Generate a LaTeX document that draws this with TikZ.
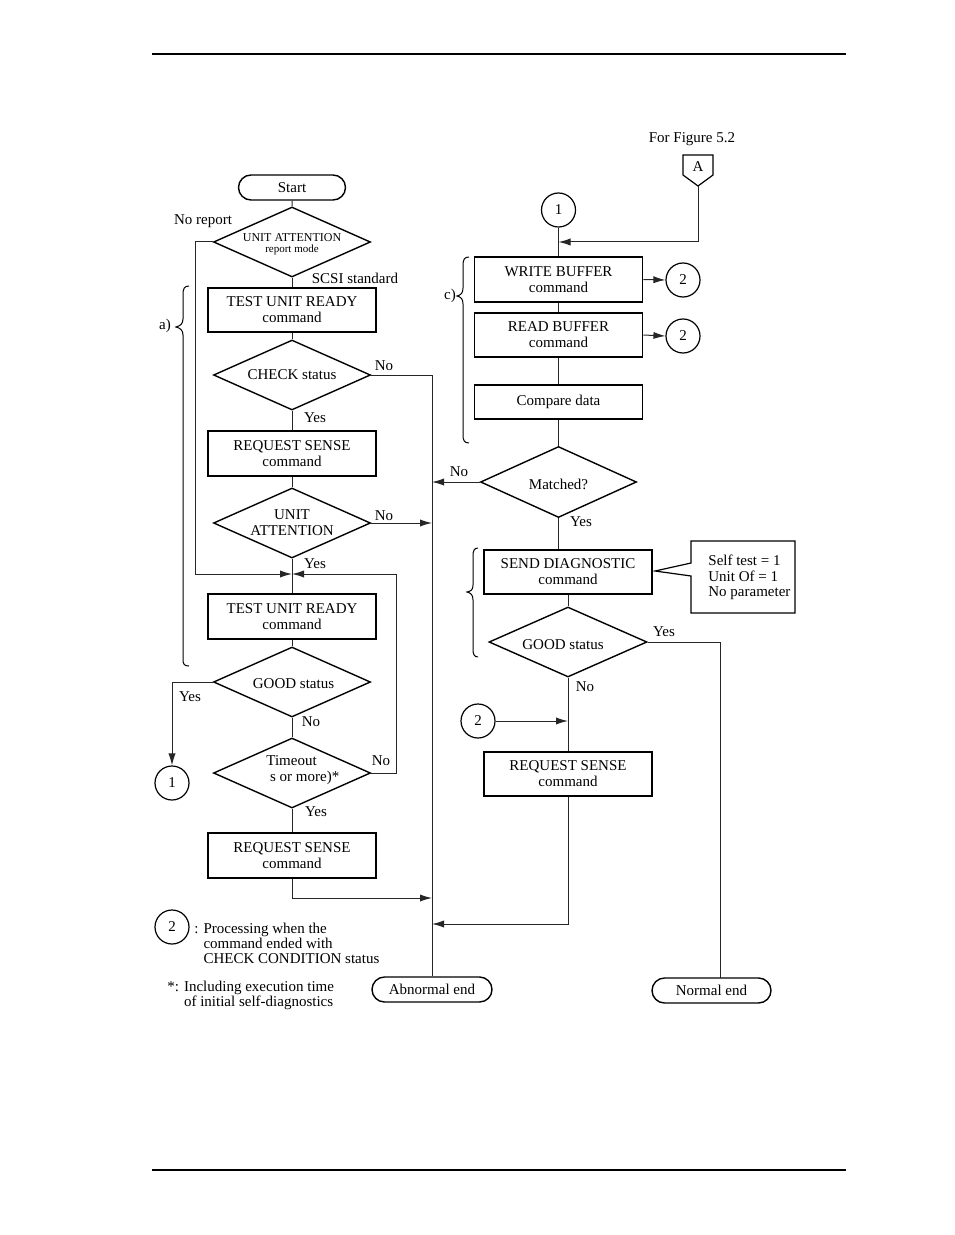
\documentclass[tikz,border=0pt]{standalone}
\usepackage{fontspec}
\setmainfont{Liberation Serif}
\usetikzlibrary{shapes.geometric,shapes.misc,arrows.meta}
\begin{document}
\begin{tikzpicture}[x=0.5pt,y=-0.5pt,
 every node/.style={font=\fontsize{7.5}{8}\selectfont, inner sep=0pt, align=center},
 box/.style={draw, line width=0.85pt, minimum width=84pt, minimum height=22.5pt},
 dia/.style={draw, diamond, line width=0.7pt, minimum width=78.5pt, minimum height=35pt},
 term/.style={draw, rounded rectangle, line width=0.7pt, minimum height=12.5pt},
 conn/.style={draw, circle, line width=0.6pt, minimum size=17pt},
 ln/.style={line width=0.5pt, draw=black!85},
 arr/.style={ln, -{Latex[length=6pt,width=3.6pt]}},
 brace/.style={line width=0.5pt, draw=black}]
\useasboundingbox (0,0) rectangle (954,1235);
% page rules
\draw[line width=0.6pt] (152,54) -- (846,54);
\draw[line width=1.3pt] (152,1170) -- (846,1170);

% ---------------- left column ----------------
\node[term, minimum width=53.5pt] (start) at (292,187.5) {Start};
\node[dia] (d1) at (292,242) {};
\node[font=\fontsize{6}{6.5}\selectfont] (d1t) at (292,237.5) {UNIT ATTENTION};
\node[font=\fontsize{5.5}{6}\selectfont] (d1u) at (292,250) {report mode};
\node[box, minimum height=22pt] (b1) at (292,310) {TEST UNIT READY\\command};
\node[dia] (d2) at (292,375) {};
\node (d2t) at (292,375) {CHECK status};
\node[box] (b2) at (292,453.5) {REQUEST SENSE\\command};
\node[dia] (d3) at (292,523) {};
\node (d3t) at (292,523) {UNIT\\ATTENTION};
\node[box] (b3) at (292,616.5) {TEST UNIT READY\\command};
\node[dia] (d4) at (292,682) {};
\node (d4t) at (293.5,684) {GOOD status};
\node[dia] (d5) at (292,773) {};
\node[align=left, anchor=west] (d5t) at (266,770.5) {Timeout\\\ s or more)*};
\node[box] (b4) at (292,855.5) {REQUEST SENSE\\command};
\node[conn] (c1L) at (172,783) {1};
\node[term, minimum width=60pt] (abn) at (432,989.5) {Abnormal end};

\coordinate (J) at (292,574);
\coordinate (V) at (432,375);

\draw[ln] (start) -- (d1);
\draw[ln] (d1) -- (b1);
\draw[ln] (b1) -- (d2);
\draw[ln] (d2) -- (b2);
\draw[ln] (b2) -- (d3);
\draw[ln] (d3) -- (b3);
\draw[ln] (b3) -- (d4);
\draw[ln] (d4) -- (d5);
\draw[ln] (d5) -- (b4);
\draw[arr] (d1.west) -- (195,242) -- (195,574) -- (J);
\draw[arr] (d5.east) -- (396,773) -- (396,574) -- (J);
\draw[ln] (d2.east) -- (V) -- (V |- abn.north);
\draw[arr] (d3.east) -- (d3.east -| V);
\draw[arr] (b4.south) -- (292,898) -- (432,898);
\draw[arr] (d4.west) -- (172,682) -- (c1L.north);

\node (l1) at (203,221) {No report};
\node (l2) at (355,278) {SCSI standard};
\node (l3) at (165,326) {a)};
\node (l4) at (384,365.5) {No};
\node (l5) at (315,418) {Yes};
\node (l6) at (384,515.5) {No};
\node (l7) at (315,564) {Yes};
\node (l8) at (190,697) {Yes};
\node (l9) at (311,722) {No};
\node (l10) at (381,761) {No};
\node (l11) at (316,812) {Yes};

\draw[brace] (189,286) .. controls (184,286) and (183,289) .. (183,295) -- (183,319)
  .. controls (183,324) and (180,326) .. (176,327) .. controls (180,328) and (183,330) .. (183,335)
  -- (183,659) .. controls (183,664) and (184,666) .. (189,666);

% legend
\node[conn] (c2L) at (172,927) {2};
\node[align=left, anchor=west, font=\fontsize{7.5}{7.5}\selectfont] (leg1) at (194,943)
  {: Processing when the\\\phantom{: }command ended with\\\phantom{: }CHECK CONDITION status};
\node[align=left, anchor=west, font=\fontsize{7.5}{7.5}\selectfont] (leg2) at (167,995.5)
  {*: Including execution time\\\phantom{*: }of initial self-diagnostics};

% ---------------- right column ----------------
\node (fig) at (692,139) {For Figure 5.2};
\draw[line width=0.6pt] (683,155) -- (713,155) -- (713,175) -- (698,186) -- (683,175) -- cycle;
\node (A) at (698,167) {A};
\coordinate (Abot) at (698,186);
\node[conn] (c1R) at (558.5,210) {1};
\node[box] (wb) at (558.5,279.5) {WRITE BUFFER\\command};
\node[conn] (c2a) at (683,280) {2};
\node[box, minimum height=22pt] (rb) at (558.5,335) {READ BUFFER\\command};
\node[conn] (c2b) at (683,336) {2};
\node[box, minimum height=17pt] (cd) at (558.5,402) {Compare data};
\node[dia, minimum width=78pt, minimum height=35.5pt] (d6) at (558.5,482) {};
\node (d6t) at (558.5,484) {Matched?};
\node[box, minimum height=22pt] (sd) at (568,572) {SEND DIAGNOSTIC\\command};
\node[dia, minimum width=79pt] (d7) at (568,642) {};
\node (d7t) at (563,644.5) {GOOD status};
\node[conn] (c2c) at (478,721) {2};
\node[box, minimum height=22pt] (rs) at (568,774) {REQUEST SENSE\\command};
\node[term, minimum width=59.5pt] (nend) at (711.5,990.5) {Normal end};

\coordinate (Aj) at (558.5,242);
\coordinate (R) at (432,924);
\draw[arr] (Abot) -- (698,242) -- (Aj);
\draw[ln] (c1R) -- (wb);
\draw[arr] (wb.east) -- (c2a.west);
\draw[ln] (wb) -- (rb);
\draw[arr] (rb.east) -- (c2b.west);
\draw[ln] (rb) -- (cd);
\draw[ln] (cd) -- (d6);
\draw[arr] (d6.west) -- (d6.west -| V);
\draw[ln] (d6.south) -- (d6.south |- sd.north);
\draw[ln] (sd) -- (d7);
\draw[ln] (d7.east) -- (720,642) -- (720,978);
\draw[ln] (d7) -- (rs);
\draw[arr] (c2c.east) -- (c2c.east -| rs.north);
\draw[arr] (rs.south) -- (rs.south |- R) -- (R);

% callout
\draw[line width=0.6pt] (691,563) -- (655,571) -- (691,576) -- (691,613) -- (795,613) -- (795,541) -- (691,541) -- cycle;
\node[align=left, anchor=west, font=\fontsize{7.5}{7.7}\selectfont] (call) at (708,577.5) {Self test = 1\\Unit Of = 1\\No parameter};

\node (l12) at (459,472) {No};
\node (l13) at (581,522) {Yes};
\node (l14) at (450,296) {c)};
\node (l15) at (664,632) {Yes};
\node (l16) at (585,687) {No};

\draw[brace] (469,257) .. controls (464,257) and (463,260) .. (463,266) -- (463,288)
  .. controls (463,293) and (461,295) .. (457,296) .. controls (461,297) and (463,299) .. (463,304)
  -- (463,435) .. controls (463,440) and (464,443) .. (469,443);
\draw[brace] (478,548) .. controls (474,548) and (473,551) .. (473,556) -- (473,585)
  .. controls (473,590) and (471,591) .. (467,592) .. controls (471,593) and (473,595) .. (473,600)
  -- (473,649) .. controls (473,654) and (474,657) .. (478,657);
\end{tikzpicture}
\end{document}
